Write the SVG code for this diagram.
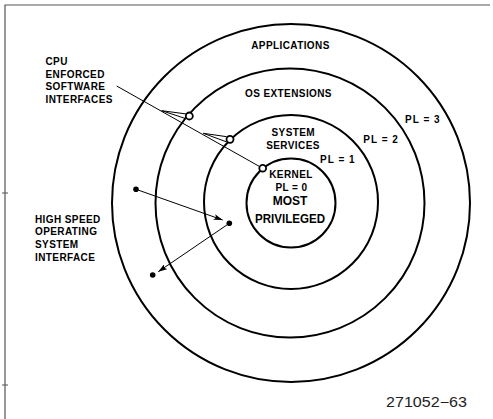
<svg xmlns="http://www.w3.org/2000/svg" width="493" height="419" viewBox="0 0 493 419">
<style>
.ring{fill:none;stroke:#000;stroke-width:2}
.t{font-family:"Liberation Sans",Arial,Helvetica,sans-serif;font-weight:bold;font-size:10px;letter-spacing:0.4px;fill:#000}
.m{text-anchor:middle}
.big{font-size:12px;letter-spacing:0}
.thin{fill:none;stroke:#000;stroke-width:1}
.port{fill:#fff;stroke:#000;stroke-width:1.8}
.dot{fill:#000}
.frame{fill:none;stroke:#555;stroke-width:1.2}
</style>
<defs>
<marker id="ah" markerUnits="userSpaceOnUse" markerWidth="10" markerHeight="6" refX="9" refY="3" orient="auto">
<path d="M0,0 L9,3 L0,6 L2,3 z" fill="#000"/>
</marker>
</defs>
<rect width="493" height="419" fill="#fff"/>
<g id="frame">
<path class="frame" d="M5,419 V5 H490"/>
<path class="frame" d="M2,193 H8 M2,385 H8"/>
</g>
<g id="ring-pl3">
<circle class="ring" cx="291" cy="203" r="179"/>
<text class="t m" x="290.5" y="48.5">APPLICATIONS</text>
<text class="t" x="405" y="122.7" textLength="35">PL = 3</text>
</g>
<g id="ring-pl2">
<circle class="ring" cx="290" cy="203" r="134.5"/>
<text class="t m" x="288.5" y="96.7">OS EXTENSIONS</text>
<text class="t" x="363.3" y="142.7" textLength="35">PL = 2</text>
</g>
<g id="ring-pl1">
<circle class="ring" cx="291" cy="202" r="87"/>
<text class="t m" x="293.3" y="136">SYSTEM</text>
<text class="t m" x="293" y="148.5">SERVICES</text>
<text class="t" x="320" y="162.5" textLength="35">PL = 1</text>
</g>
<g id="kernel">
<circle class="ring" cx="291" cy="203" r="44.5"/>
<text class="t m" x="291" y="177.5">KERNEL</text>
<text class="t m" x="291.5" y="190.7">PL = 0</text>
<text class="t m big" x="290" y="205">MOST</text>
<text class="t m big" x="290" y="222.7" textLength="70" lengthAdjust="spacingAndGlyphs">PRIVILEGED</text>
</g>
<g id="label-cpu">
<text class="t" x="45.5" y="65">CPU</text>
<text class="t" x="45.5" y="77.5">ENFORCED</text>
<text class="t" x="45.5" y="90.3">SOFTWARE</text>
<text class="t" x="45.5" y="103.3">INTERFACES</text>
</g>
<g id="label-highspeed">
<text class="t" x="35" y="222.5">HIGH SPEED</text>
<text class="t" x="35" y="235">OPERATING</text>
<text class="t" x="35" y="247.7">SYSTEM</text>
<text class="t" x="35" y="260.8">INTERFACE</text>
</g>
<g id="connectors">
<line class="thin" x1="116.7" y1="86" x2="262.7" y2="168.3"/>
<path class="thin" d="M161.7,110.7 L186.7,114 M161.7,110.7 L186,118.7"/>
<path class="thin" d="M203.3,133.3 L226.7,136.7 M203.3,133.3 L226,141.7"/>
<circle class="port" cx="189.3" cy="116" r="3.5"/>
<circle class="port" cx="230" cy="139.3" r="3.5"/>
<circle class="port" cx="262.7" cy="168.3" r="3.4" stroke-width="2.8"/>
<line class="thin" x1="136" y1="189.3" x2="222.7" y2="220" marker-end="url(#ah)"/>
<line class="thin" x1="229.3" y1="223.3" x2="158.3" y2="271.7" marker-end="url(#ah)"/>
<circle class="dot" cx="136" cy="189.3" r="2.8"/>
<circle class="dot" cx="229.3" cy="223.3" r="2.8"/>
<circle class="dot" cx="152.7" cy="275" r="2.8"/>
</g>
<text x="386" y="406.7" font-family="Liberation Sans, Arial, sans-serif" font-size="14.5" fill="#222" textLength="81" lengthAdjust="spacingAndGlyphs">271052−63</text>
</svg>
